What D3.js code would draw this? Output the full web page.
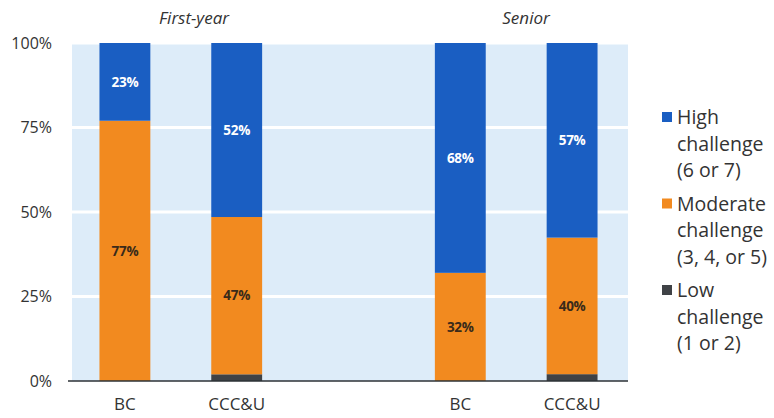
<!DOCTYPE html>
<html><head><meta charset="utf-8">
<script src="https://cdn.jsdelivr.net/npm/d3@7"></script>
<style>body{margin:0;background:#fff}svg{display:block}text{font-family:"Open Sans",sans-serif}</style>
</head><body><svg id="c" width="774" height="418"></svg>
<script>
const slots = ["fy-BC","fy-CCC","gap","sr-BC","sr-CCC"];
const categories = ["fy-BC","fy-CCC","sr-BC","sr-CCC"];
const categoryLabels = ["BC","CCC&U","BC","CCC&U"];
const groups = ["First-year","Senior"];
const low = [0, 2, 0, 2];
const moderate = [77, 47, 32, 40];
const high = [23, 52, 68, 57];
const seriesNames = ["Low","Moderate","High"];
const legendLines = [["High","challenge","(6 or 7)"],["Moderate","challenge","(3, 4, or 5)"],["Low","challenge","(1 or 2)"]];
const yTicks = [0, 0.25, 0.5, 0.75, 1];

const colors = {Low:"#3f4246", Moderate:"#f28a1f", High:"#1a5ec2"};
const svg = d3.select("#c");
const x = d3.scaleBand().domain(slots).range([69, 628]).paddingInner(0.545).paddingOuter(0.2725);
const y = d3.scaleLinear().domain([0,1]).range([381, 43]);

const rows = categories.map((c,i)=>({cat:c, Low:low[i], Moderate:moderate[i], High:high[i]}));
const stack = d3.stack().keys(seriesNames).offset(d3.stackOffsetExpand)(rows);

// background
svg.append("rect").attr("x",72).attr("y",y(1)).attr("width",628-72).attr("height",y(0)-y(1)).attr("fill","#ddecf9");
svg.selectAll(".grid").data(yTicks.filter(d=>d>0)).join("line")
  .attr("x1",72).attr("x2",628).attr("y1",d=>y(d)).attr("y2",d=>y(d))
  .attr("stroke","#fff").attr("stroke-width",3);

// bars
const g = svg.append("g");
stack.forEach(s=>{
  g.selectAll(null).data(s).join("rect")
    .attr("x",d=>x(d.data.cat)).attr("width",x.bandwidth())
    .attr("y",d=>y(d[1])).attr("height",d=>y(d[0])-y(d[1]))
    .attr("fill",colors[s.key]);
});
// labels
stack.filter(s=>s.key!=="Low").forEach(s=>{
  g.selectAll(null).data(s).join("text")
    .attr("x",d=>x(d.data.cat)+x.bandwidth()/2)
    .attr("y",d=>(y(d[0])+y(d[1]))/2)
    .attr("dy","0.35em").attr("text-anchor","middle")
    .attr("font-size",13.5).attr("font-weight","bold").attr("letter-spacing","-0.3")
    .attr("fill",s.key==="High"?"#fff":"#3a2a1a")
    .text(d=>d.data[s.key]+"%");
});

// baseline
svg.append("line").attr("x1",68).attr("x2",628).attr("y1",381).attr("y2",381).attr("stroke","#2d3236").attr("stroke-width",1.5);

// y axis
const yAxis = d3.axisLeft(y).tickValues(yTicks).tickFormat(d3.format(".0%")).tickSize(0).tickPadding(0);
const ya = svg.append("g").attr("transform","translate(52,0)").call(yAxis);
ya.select(".domain").remove();
ya.selectAll("text").attr("font-size",16).attr("fill","#333").style("font-family","'Open Sans',sans-serif");

// x axis
const xa = svg.append("g").attr("transform","translate(0,381)")
  .call(d3.axisBottom(x).tickValues(categories).tickFormat(d=>categoryLabels[categories.indexOf(d)]).tickSize(0).tickPadding(17));
xa.select(".domain").remove();
xa.selectAll("text").attr("font-size",17).attr("fill","#333").style("font-family","'Open Sans',sans-serif");

// group titles
svg.selectAll(".gt").data(groups).join("text")
  .attr("x",(d,i)=>i===0?194:526).attr("y",24).attr("text-anchor","middle")
  .attr("font-size",17).attr("font-style","italic").attr("fill","#333").text(d=>d);

// legend
const legendKeys = ["High","Moderate","Low"];
const lg = svg.append("g");
legendKeys.forEach((k,i)=>{
  const top = 124 + i*86.5;
  lg.append("rect").attr("x",662).attr("y",top-12).attr("width",10).attr("height",10).attr("fill",colors[k]);
  legendLines[i].forEach((t,j)=>{
    lg.append("text").attr("x",677).attr("y",top+j*26.5).attr("font-size",19.5).attr("fill","#333").text(t);
  });
});
</script></body></html>
